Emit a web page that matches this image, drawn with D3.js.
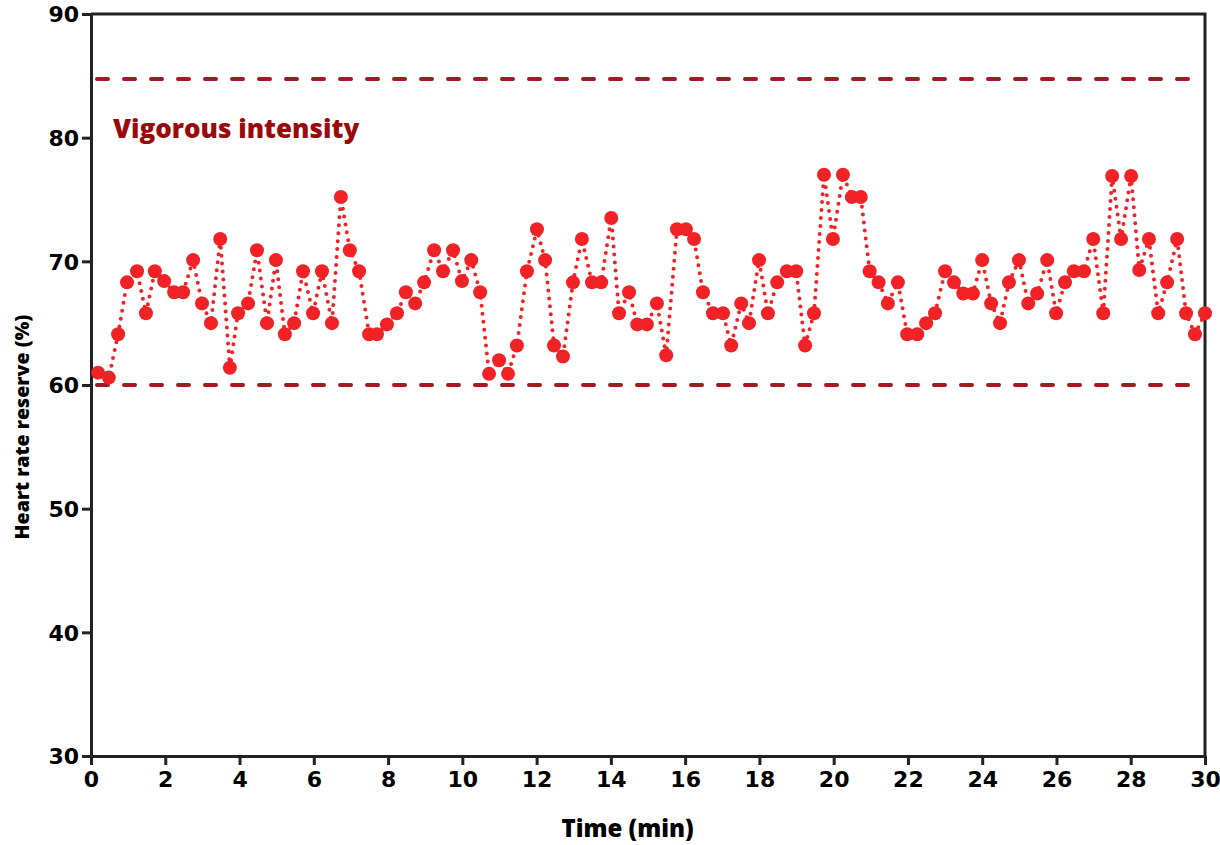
<!DOCTYPE html>
<html>
<head>
<meta charset="utf-8">
<script src="https://cdn.jsdelivr.net/npm/d3@7"></script>
<style>
  body { margin: 0; background: #fff; }
  text { font-family: "DejaVu Sans", sans-serif; }
</style>
</head>
<body>
<div id="graph1"></div>
<script>
// heart rate reserve over a 30 min session
let times = [0.19, 0.48, 0.73, 0.97, 1.24, 1.48, 1.72, 1.97, 2.24, 2.48,
    2.75, 2.99, 3.23, 3.48, 3.74, 3.96, 4.23, 4.47, 4.74, 4.98,
    5.22, 5.47, 5.71, 5.98, 6.22, 6.49, 6.73, 6.97, 7.22, 7.49,
    7.70, 7.97, 8.24, 8.48, 8.73, 8.97, 9.24, 9.48, 9.75, 9.99,
    10.24, 10.48, 10.72, 10.99, 11.23, 11.47, 11.74, 12.01, 12.23, 12.47,
    12.71, 12.98, 13.22, 13.49, 13.74, 14.01, 14.22, 14.49, 14.71, 14.97,
    15.24, 15.49, 15.78, 16.02, 16.24, 16.48, 16.75, 17.02, 17.24, 17.51,
    17.72, 17.99, 18.23, 18.48, 18.74, 18.99, 19.23, 19.47, 19.74, 19.98,
    20.25, 20.49, 20.73, 20.97, 21.21, 21.46, 21.73, 21.98, 22.25, 22.49,
    22.73, 23.00, 23.24, 23.49, 23.75, 24.00, 24.24, 24.48, 24.72, 24.99,
    25.24, 25.48, 25.75, 25.99, 26.23, 26.47, 26.74, 26.99, 27.26, 27.50,
    27.74, 28.01, 28.23, 28.49, 28.74, 28.98, 29.25, 29.49, 29.73, 30.00]
let hrr = [61.0, 60.6, 64.1, 68.3, 69.2, 65.8, 69.2, 68.4, 67.5, 67.5,
    70.1, 66.6, 65.0, 71.8, 61.4, 65.8, 66.6, 70.9, 65.0, 70.1,
    64.1, 65.0, 69.2, 65.8, 69.2, 65.0, 75.2, 70.9, 69.2, 64.1,
    64.1, 64.9, 65.8, 67.5, 66.6, 68.3, 70.9, 69.2, 70.9, 68.4,
    70.1, 67.5, 60.9, 62.0, 60.9, 63.2, 69.2, 72.6, 70.1, 63.2,
    62.3, 68.3, 71.8, 68.3, 68.3, 73.5, 65.8, 67.5, 64.9, 64.9,
    66.6, 62.4, 72.6, 72.6, 71.8, 67.5, 65.8, 65.8, 63.2, 66.6,
    65.0, 70.1, 65.8, 68.3, 69.2, 69.2, 63.2, 65.8, 77.0, 71.8,
    77.0, 75.2, 75.2, 69.2, 68.3, 66.6, 68.3, 64.1, 64.1, 65.0,
    65.8, 69.2, 68.3, 67.4, 67.4, 70.1, 66.6, 65.0, 68.3, 70.1,
    66.6, 67.4, 70.1, 65.8, 68.3, 69.2, 69.2, 71.8, 65.8, 76.9,
    71.8, 76.9, 69.3, 71.8, 65.8, 68.3, 71.8, 65.8, 64.1, 65.8]
let xTicks = [0, 2, 4, 6, 8, 10, 12, 14, 16, 18, 20, 22, 24, 26, 28, 30]
let yTicks = [30, 40, 50, 60, 70, 80, 90]
let zoneLines = [60, 84.75]
let zoneLabel = "Vigorous intensity"

let width = 1220, height = 845
let margin = {top: 14, right: 15, bottom: 89, left: 91}
let w = width - margin.left - margin.right
let h = height - margin.top - margin.bottom

let data = times.map((t, i) => ({t: t, v: hrr[i]}))

let svg = d3.select("#graph1")
    .append("svg")
    .attr("width", width)
    .attr("height", height)
    .append("g")
    .attr("transform", `translate(${margin.left}, ${margin.top})`);

let x = d3.scaleLinear().domain([0, 30]).range([0, w])
let y = d3.scaleLinear().domain([30, 90]).range([h, 0])

// box top + right
svg.append("path")
    .attr("d", `M0,0H${w}V${h}`)
    .attr("fill", "none")
    .attr("stroke", "#222")
    .attr("stroke-width", 3)

let xAxis = svg.append("g")
    .attr("transform", `translate(0, ${h})`)
    .call(d3.axisBottom(x).tickValues(xTicks).tickSize(9).tickPadding(6).tickSizeOuter(0))
let yAxis = svg.append("g")
    .call(d3.axisLeft(y).tickValues(yTicks).tickSize(9).tickPadding(3).tickSizeOuter(0))

for (let ax of [xAxis, yAxis]) {
    ax.select(".domain").attr("stroke", "#222").attr("stroke-width", 3)
    ax.selectAll(".tick line").attr("stroke", "#222").attr("stroke-width", 3)
    ax.selectAll(".tick text")
        .attr("fill", "#000")
        .style("font-family", "DejaVu Sans")
        .style("font-weight", "bold")
        .style("font-size", "22px")
}
yAxis.selectAll(".tick text").attr("dy", "0.36em")

// intensity zone lines
svg.selectAll(".zone").data(zoneLines).enter()
    .append("line")
    .attr("class", "zone")
    .attr("x1", 6).attr("x2", w - 8)
    .attr("y1", d => y(d)).attr("y2", d => y(d))
    .attr("stroke", "#a01c22")
    .attr("stroke-width", 4)
    .attr("stroke-linecap", "round")
    .attr("stroke-dasharray", "11,16")

svg.append("text")
    .attr("x", 22)
    .attr("y", y(80) + 0)
    .style("font-family", "Open Sans")
    .style("font-weight", "800")
    .style("font-size", "26px")
    .attr("fill", "#990a0a")
    .text(zoneLabel)

// dotted connector
let line = d3.line().x(d => x(d.t)).y(d => y(d.v))
svg.append("path")
    .datum(data)
    .attr("d", line)
    .attr("fill", "none")
    .attr("stroke", "#f02226")
    .attr("stroke-width", 4)
    .attr("stroke-linecap", "round")
    .attr("stroke-dasharray", "0,8")

svg.selectAll("circle").data(data).enter()
    .append("circle")
    .attr("cx", d => x(d.t))
    .attr("cy", d => y(d.v))
    .attr("r", 7)
    .attr("fill", "#f02226")

// axis titles
svg.append("text")
    .attr("transform", `translate(${x(14.45)}, ${h + 81})`)
    .style("text-anchor", "middle")
    .style("font-family", "Open Sans")
    .style("font-weight", "800")
    .style("font-size", "24px")
    .text("Time (min)")

svg.append("text")
    .attr("transform", `translate(-62, ${y(56.6)}) rotate(-90)`)
    .style("text-anchor", "middle")
    .style("font-family", "Open Sans")
    .style("font-weight", "800")
    .style("font-size", "19.6px")
    .text("Heart rate reserve (%)")
</script>
</body>
</html>
